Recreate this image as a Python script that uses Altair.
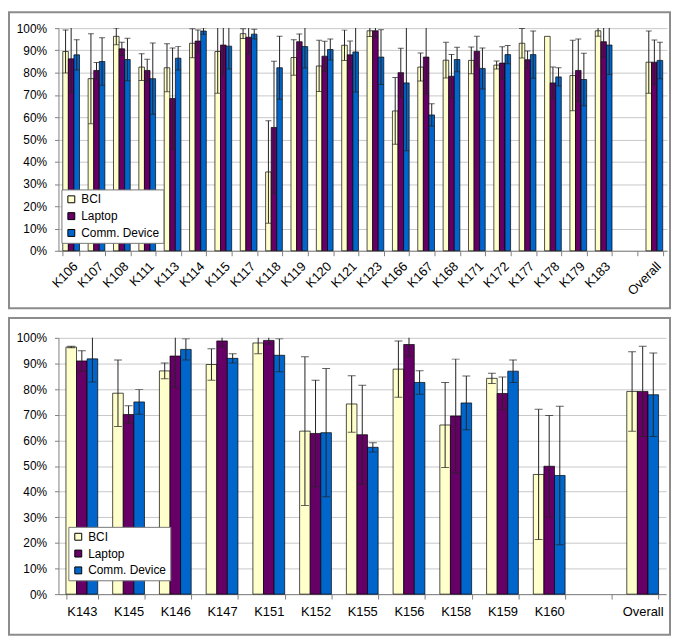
import altair as alt
import pandas as pd

series = ["BCI", "Laptop", "Comm. Device"]
colors = ["#FFFFCC", "#660066", "#0066CC"]

# ---- top panel ----
top_cats = ["K106", "K107", "K108", "K111", "K113", "K114", "K115", "K117", "K118",
            "K119", "K120", "K121", "K123", "K166", "K167", "K168", "K171", "K172",
            "K177", "K178", "K179", "K183", " ", "Overall"]
top_bci = [89.5, 77.3, 96.3, 82.5, 82.2, 93.2, 89.5, 97.5, 35.4, 86.8, 83.0, 92.3,
           98.8, 62.8, 82.5, 85.6, 85.5, 83.4, 93.2, 96.3, 78.7, 98.8, None, 84.7]
top_bci_err = [9.7, 20.2, 3.8, 6.0, 10.8, 6.5, 18.7, 2.2, 23.0, 8.0, 11.5, 6.8,
               2.6, 15.0, 6.3, 8.0, 6.0, 1.8, 6.6, 0.0, 15.8, 2.5, None, 14.0]
top_laptop = [86.2, 81.0, 90.7, 81.0, 68.4, 94.2, 92.4, 95.9, 55.4, 93.9, 87.4, 88.0,
              98.8, 80.0, 87.0, 78.4, 89.6, 84.3, 85.8, 75.4, 81.0, 93.9, None, 84.7]
top_laptop_err = [15.0, 3.6, 3.0, 5.0, 22.7, 5.0, 13.4, 7.5, 29.7, 3.5, 6.7, 6.2,
                  2.8, 11.0, 16.5, 9.8, 6.7, 7.3, 3.9, 7.1, 14.1, 6.9, None, 10.0]
top_comm = [88.0, 85.0, 85.9, 77.3, 86.5, 98.7, 91.9, 97.3, 82.2, 91.7, 90.4, 89.3,
            87.0, 75.4, 61.0, 85.9, 81.9, 88.1, 88.1, 78.1, 76.9, 92.4, None, 85.5]
top_comm_err = [6.8, 10.7, 9.5, 16.0, 5.3, 1.5, 10.3, 2.2, 14.2, 9.6, 4.7, 18.0,
                12.3, 30.5, 5.0, 5.5, 9.2, 4.1, 10.6, 4.1, 11.8, 13.2, None, 8.2]

# ---- bottom panel ----
bot_cats = ["K143", "K145", "K146", "K147", "K151", "K152", "K155", "K156", "K158",
            "K159", "K160", " ", "Overall"]
bot_bci = [96.4, 78.4, 87.1, 89.6, 98.0, 63.6, 74.2, 87.8, 66.0, 84.2, 46.7, None, 79.1]
bot_bci_err = [0.3, 13.0, 3.1, 6.1, 4.2, 29.0, 11.0, 11.0, 16.6, 2.0, 25.4, None, 15.5]
bot_laptop = [91.0, 70.1, 92.9, 98.8, 99.0, 62.7, 62.2, 97.4, 69.5, 78.3, 49.9, None, 79.1]
bot_laptop_err = [4.0, 3.4, 12.2, 2.3, 1.5, 20.8, 19.3, 4.5, 22.2, 6.4, 19.8, None, 17.6]
bot_comm = [91.8, 75.0, 95.5, 92.0, 93.2, 63.0, 57.3, 82.6, 74.6, 87.0, 46.3, None, 77.8]
bot_comm_err = [9.0, 4.8, 4.1, 1.8, 6.4, 25.0, 1.8, 4.6, 10.5, 4.4, 27.0, None, 16.3]

y_ticks = list(range(0, 101, 10))
FONT = "Liberation Sans"


def make_df(cats, vals, errs):
    rows = []
    for s, v_list, e_list in zip(series, vals, errs):
        for c, v, e in zip(cats, v_list, e_list):
            if v is None:
                continue
            rows.append({"cat": c, "series": s, "value": v, "err": e,
                         "lo": v - e, "hi": v + e})
    return pd.DataFrame(rows)


def panel(cats, vals, errs, width, height, angle, pad_inner, cap, frame, leg_xy,
          x_label_pad):
    df = make_df(cats, vals, errs)
    x_scale = alt.Scale(domain=cats, paddingInner=pad_inner,
                        paddingOuter=pad_inner / 2)
    x_axis = alt.Axis(title=None, labelAngle=angle, tickBand="extent",
                      labelFontSize=13, tickSize=5, labelPadding=x_label_pad,
                      grid=False, labelOverlap=False)
    y_scale = alt.Scale(domain=[0, 100], nice=False)
    y_axis = alt.Axis(title=None, values=y_ticks, labelExpr="datum.value + '%'",
                      labelFontSize=12, tickSize=4, labelPadding=8, grid=True,
                      labelOverlap=False)
    xo = alt.XOffset("series:N", scale=alt.Scale(domain=series, paddingInner=0,
                                                   paddingOuter=0))
    base = alt.Chart(df)
    bars = base.mark_bar(stroke="black", strokeWidth=0.7).encode(
        x=alt.X("cat:N", scale=x_scale, axis=x_axis),
        xOffset=xo,
        y=alt.Y("value:Q", scale=y_scale, axis=y_axis),
        color=alt.Color("series:N",
                        scale=alt.Scale(domain=series, range=colors),
                        legend=alt.Legend(title=None, orient="none",
                                          legendX=leg_xy[0], legendY=leg_xy[1],
                                          symbolType="square", symbolSize=49,
                                          symbolStrokeColor="black",
                                          symbolStrokeWidth=1,
                                          labelFontSize=12, rowPadding=5,
                                          padding=4, labelOffset=4,
                                          strokeColor="#777777",
                                          fillColor="white")),
    )
    eb = base.transform_filter("datum.err > 0")
    rules = eb.mark_rule(color="#222222", strokeWidth=1, clip=True).encode(
        x=alt.X("cat:N", scale=x_scale, axis=x_axis), xOffset=xo,
        y=alt.Y("lo:Q", scale=y_scale, axis=y_axis), y2="hi:Q")
    caps_hi = eb.mark_tick(color="#222222", thickness=1, size=cap, clip=True).encode(
        x=alt.X("cat:N", scale=x_scale, axis=x_axis), xOffset=xo,
        y=alt.Y("hi:Q", scale=y_scale, axis=y_axis))
    caps_lo = eb.mark_tick(color="#222222", thickness=1, size=cap, clip=True).encode(
        x=alt.X("cat:N", scale=x_scale, axis=x_axis), xOffset=xo,
        y=alt.Y("lo:Q", scale=y_scale, axis=y_axis))
    box = alt.Chart(pd.DataFrame({"k": [0]})).mark_rect(
        filled=False, stroke="#8c8c8c", strokeWidth=2).encode(
        x=alt.value(frame[0]), x2=alt.value(width + frame[1]),
        y=alt.value(frame[2]), y2=alt.value(height + frame[3]))
    return alt.layer(box, bars, rules, caps_hi, caps_lo).properties(
        width=width, height=height)


top = panel(top_cats, [top_bci, top_laptop, top_comm],
            [top_bci_err, top_laptop_err, top_comm_err],
            615, 225, -45, 0.34, 6, (-50, 3, -16, 58), (3, 163), 4)
bottom = panel(bot_cats, [bot_bci, bot_laptop, bot_comm],
               [bot_bci_err, bot_laptop_err, bot_comm_err],
               614, 259, 0, 0.32, 8, (-50, 4, -20, 41), (10, 191), 7)

chart = alt.vconcat(top, bottom, spacing=8).resolve_scale(
    x="independent", y="independent", xOffset="independent"
).resolve_legend(color="independent").properties(
    padding=0, background="white"
).configure_axis(
    labelFont=FONT, labelColor="black", domainColor="#808080",
    tickColor="#808080", gridColor="#c8c8c8"
).configure_legend(
    labelFont=FONT, labelColor="black"
).configure_view(stroke=None)

chart.save("out.html", embed_options={"renderer": "svg", "actions": False})
